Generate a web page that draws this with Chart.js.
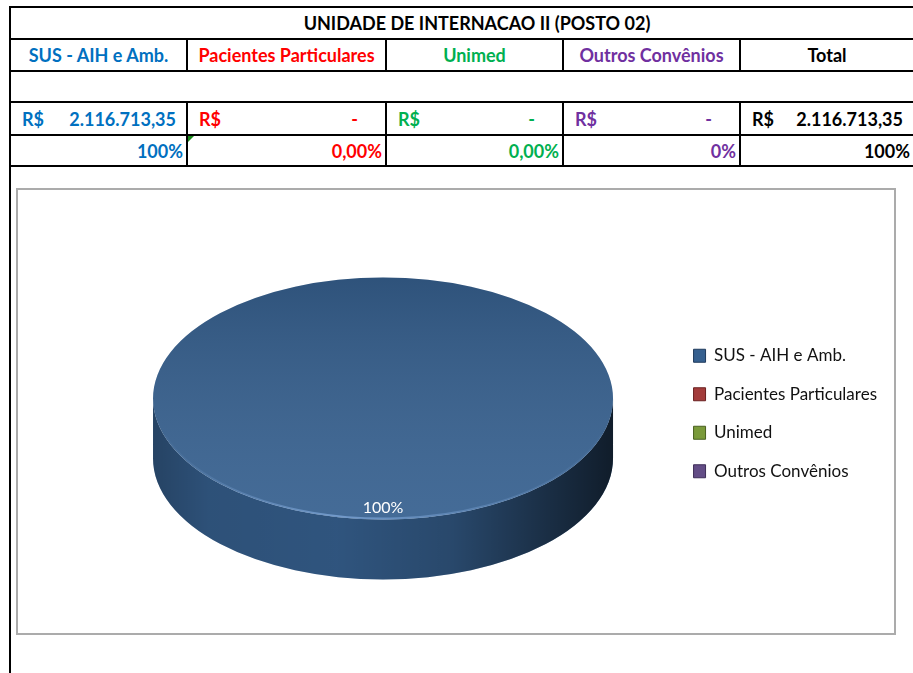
<!DOCTYPE html>
<html>
<head>
<meta charset="utf-8">
<script src="https://cdn.jsdelivr.net/npm/chart.js@4.4.1/dist/chart.umd.min.js"></script>
<style>
  body { margin: 0; background: #fff; width: 913px; height: 673px; overflow: hidden; position: relative; font-family: Lato, "Open Sans", sans-serif; }
  .cell { position: absolute; box-sizing: border-box; display: flex; align-items: center; font-weight: bold; font-size: 18px; white-space: nowrap; }
  .title { justify-content: center; padding-left: 30px; color: #000; }
  .head { justify-content: center; }
  .money { justify-content: space-between; padding-left: 12px; padding-right: 11px; }
  .money.dash { padding-right: 28px; }
  .pct { justify-content: flex-end; padding-right: 4px; }
  .tri::before { content: ""; position: absolute; left: 1px; top: 1px; border-top: 6px solid #1a8a1a; border-right: 6px solid transparent; }
  .line { position: absolute; background: #000; }
  #box { position: absolute; left: 16px; top: 188px; width: 880px; height: 447px; box-sizing: border-box; border: 2px solid #ababab; }
  #pizza { position: absolute; left: 18px; top: 190px; }
</style>
</head>
<body>
<div id="sheet"></div>
<div id="box"></div>
<canvas id="pizza" width="876" height="443"></canvas>
<script>
// dados da planilha
var titulo = 'UNIDADE DE INTERNACAO II (POSTO 02)';
var categorias = ['SUS - AIH e Amb.', 'Pacientes Particulares', 'Unimed', 'Outros Convênios'];
var valores = [2116713.35, 0, 0, 0];
var valoresTexto = ['2.116.713,35', '-', '-', '-'];
var percentuaisTexto = ['100%', '0,00%', '0,00%', '0%'];
var totalTexto = '2.116.713,35';
var totalPercentual = '100%';
var corTexto = ['#0070C0', '#FF0000', '#00B050', '#7030A0'];
var corFatia = ['#36608F', '#A33C3B', '#7A9A3A', '#634D86'];
var corBorda = ['#1F3A5C', '#6A2020', '#4A6020', '#3E2E58'];

// grade da planilha
var colX = [10, 187, 386, 563, 740, 914];
var rowY = [7, 39, 71, 102, 135, 166];
var sheet = document.getElementById('sheet');

function cell(c0, c1, r, html, cls, color) {
  var d = document.createElement('div');
  d.className = 'cell ' + (cls || '');
  d.style.left = colX[c0] + 'px';
  d.style.width = (colX[c1] - colX[c0]) + 'px';
  d.style.top = rowY[r] + 'px';
  d.style.height = (rowY[r + 1] - rowY[r]) + 'px';
  d.style.color = color || '#000';
  d.innerHTML = html;
  sheet.appendChild(d);
}
function line(x, y, w, h) {
  var d = document.createElement('div');
  d.className = 'line';
  d.style.left = x + 'px'; d.style.top = y + 'px';
  d.style.width = w + 'px'; d.style.height = h + 'px';
  sheet.appendChild(d);
}

cell(0, 5, 0, titulo, 'title');
for (var i = 0; i < 4; i++) {
  cell(i, i + 1, 1, categorias[i], 'head', corTexto[i]);
  cell(i, i + 1, 3, '<span>R$</span><span>' + valoresTexto[i] + '</span>',
       'money' + (valores[i] === 0 ? ' dash' : ''), corTexto[i]);
  cell(i, i + 1, 4, percentuaisTexto[i], 'pct' + (i === 1 ? ' tri' : ''), corTexto[i]);
}
cell(4, 5, 1, 'Total', 'head');
cell(4, 5, 3, '<span>R$</span><span>' + totalTexto + '</span>', 'money');
cell(4, 5, 4, totalPercentual, 'pct');

rowY.forEach(function (y) { line(9, y - 1, 920, 2); });
line(9, 6, 2, 667);
colX.slice(1, 5).forEach(function (x) {
  line(x - 1, rowY[1], 2, rowY[2] - rowY[1]);
  line(x - 1, rowY[3], 2, rowY[5] - rowY[3]);
});

// pizza 3D: achata o disco e desenha a lateral
var disco3D = {
  id: 'disco3D',
  beforeDatasetsDraw: function (chart, args, opts) {
    var ctx = chart.ctx;
    var arcs = chart.getDatasetMeta(0).data;
    var x = arcs[0].x, y = arcs[0].y, r = arcs[0].outerRadius;
    var ry = opts.ry, fy = y + opts.shift;
    arcs.forEach(function (arc) {
      var a0 = Math.max(arc.startAngle, 0), a1 = Math.min(arc.endAngle, Math.PI);
      if (a1 <= a0) return;
      ctx.save();
      ctx.beginPath();
      ctx.ellipse(x, fy, r, ry, 0, a0, a1);
      ctx.ellipse(x, fy + opts.depth, r, ry, 0, a1, a0, true);
      ctx.closePath();
      ctx.fillStyle = arc.options.backgroundColor;
      ctx.fill();
      var g = ctx.createLinearGradient(x - r, 0, x + r, 0);
      g.addColorStop(0, 'rgba(0,0,0,0.30)');
      g.addColorStop(0.12, 'rgba(0,0,0,0.16)');
      g.addColorStop(0.4, 'rgba(0,0,0,0.12)');
      g.addColorStop(0.65, 'rgba(0,0,0,0.25)');
      g.addColorStop(0.88, 'rgba(0,0,0,0.55)');
      g.addColorStop(1, 'rgba(0,0,0,0.70)');
      ctx.fillStyle = g;
      ctx.fill();
      ctx.restore();
    });
    ctx.save();
    ctx.translate(x, fy);
    ctx.scale(1, ry / r);
    ctx.translate(-x, -y);
  },
  afterDatasetsDraw: function (chart, args, opts) {
    var ctx = chart.ctx;
    var meta = chart.getDatasetMeta(0);
    var arcs = meta.data;
    var x = arcs[0].x, y = arcs[0].y, r = arcs[0].outerRadius;
    var ry = opts.ry, fy = y + opts.shift;
    // sombreamento da face
    ctx.beginPath();
    ctx.arc(x, y, r, 0, Math.PI * 2);
    var g = ctx.createLinearGradient(0, y - r, 0, y + r);
    g.addColorStop(0, 'rgba(0,0,0,0.14)');
    g.addColorStop(1, 'rgba(255,255,255,0.07)');
    ctx.fillStyle = g;
    ctx.fill();
    ctx.restore();
    // brilho na borda frontal
    ctx.save();
    ctx.beginPath();
    ctx.ellipse(x, fy, r - 1, ry - 1, 0, Math.PI * 0.1, Math.PI * 0.9);
    var h = ctx.createLinearGradient(x - r, 0, x + r, 0);
    h.addColorStop(0, 'rgba(120,160,210,0)');
    h.addColorStop(0.4, 'rgba(130,170,220,0.75)');
    h.addColorStop(0.75, 'rgba(120,160,210,0.35)');
    h.addColorStop(1, 'rgba(120,160,210,0)');
    ctx.strokeStyle = h;
    ctx.lineWidth = 2;
    ctx.stroke();
    ctx.restore();
    // rótulos de porcentagem
    var total = valores.reduce(function (a, b) { return a + b; }, 0);
    ctx.save();
    ctx.font = '16px Lato';
    ctx.fillStyle = '#fff';
    ctx.textAlign = 'center';
    ctx.textBaseline = 'middle';
    arcs.forEach(function (arc, i) {
      var v = valores[i];
      if (!v) return;
      var mid = (arc.startAngle + arc.endAngle) / 2;
      var px = x + Math.cos(mid) * r * 0.9;
      var py = fy + Math.sin(mid) * ry * 0.9;
      ctx.fillText(Math.round(v / total * 100) + '%', px, py);
    });
    ctx.restore();
  }
};

var chart = new Chart(document.getElementById('pizza'), {
  type: 'pie',
  data: {
    labels: categorias,
    datasets: [{
      data: valores,
      backgroundColor: corFatia,
      borderWidth: 0,
      radius: 230,
      clip: false
    }]
  },
  options: {
    responsive: false,
    animation: false,
    events: [],
    layout: { padding: { left: 76, right: 7, top: 4, bottom: 0 } },
    plugins: {
      tooltip: { enabled: false },
      disco3D: { ry: 121, depth: 60, shift: -15 },
      legend: {
        position: 'right',
        labels: {
          color: '#111',
          font: { family: 'Lato', size: 17 },
          boxWidth: 12,
          boxHeight: 13,
          padding: 21.5,
          generateLabels: function (c) {
            return Chart.overrides.pie.plugins.legend.labels.generateLabels(c).map(function (l, i) {
              l.strokeStyle = corBorda[i];
              l.lineWidth = 1;
              return l;
            });
          }
        }
      }
    }
  },
  plugins: [disco3D]
});
</script>
</body>
</html>
